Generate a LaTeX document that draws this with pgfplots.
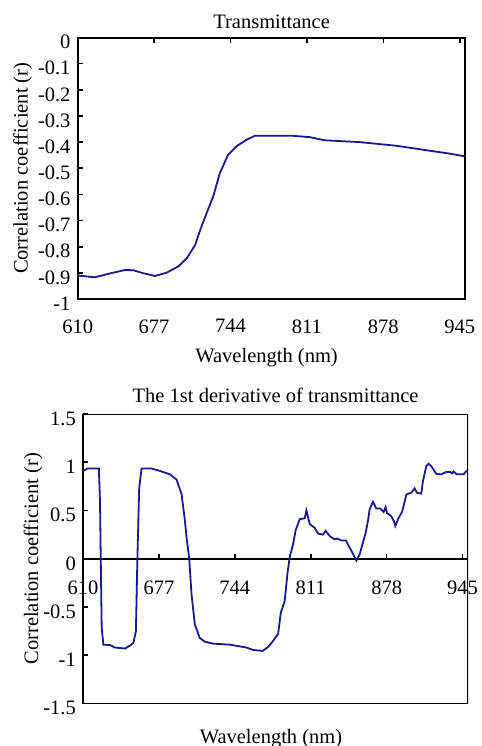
\documentclass[border=0pt]{standalone}
\usepackage{pgfplots}
\pgfplotsset{compat=1.18}
\usepackage{fontspec}
\setmainfont{Liberation Serif}
\definecolor{curve}{RGB}{25,25,140}
\pgfplotstableread{
x y
610 -0.910
612 -0.911
625 -0.917
638.4 -0.902
651.5 -0.889
658.8 -0.890
668 -0.902
677.9 -0.912
688.1 -0.899
698.3 -0.875
705.7 -0.844
713 -0.793
717.4 -0.736
723 -0.672
728.8 -0.608
734.6 -0.519
741.9 -0.448
749.2 -0.416
758 -0.391
765.3 -0.376
798.8 -0.376
813.4 -0.381
826.5 -0.393
857.2 -0.400
889.3 -0.414
912.6 -0.429
936 -0.444
950 -0.455
}\transdata
\pgfplotstableread{
x y
610 0.91
614 0.935
624 0.935
625 0.6
626.5 -0.72
628 -0.89
634 -0.895
638 -0.92
647 -0.93
651.5 -0.90
654.5 -0.87
656.7 -0.75
658 0
659.6 0.73
661.7 0.935
670.5 0.935
678 0.91
686.7 0.875
692.6 0.82
697 0.67
699.9 0.40
701.4 0.22
703.7 0.01
705.8 -0.37
708.7 -0.68
713 -0.82
717.6 -0.86
725 -0.88
739.6 -0.89
754.3 -0.92
760.2 -0.945
768.4 -0.955
773.4 -0.915
777.8 -0.85
782.2 -0.78
784.6 -0.56
788 -0.44
790.5 -0.15
792.5 0.02
795.4 0.15
797.8 0.30
801.3 0.41
805.7 0.42
807.2 0.50
810.1 0.36
814.5 0.32
817.5 0.26
821.9 0.25
824.2 0.29
827.8 0.235
832.2 0.20
834.2 0.21
838 0.19
842 0.19
845.4 0.115
849.2 0.03
851.3 -0.02
854.2 0.045
859.5 0.27
861.5 0.39
863 0.51
865.9 0.59
868.9 0.52
872.4 0.52
875.4 0.485
877.1 0.535
878.3 0.475
882.1 0.44
884.4 0.39
885.7 0.34
888 0.41
891.8 0.49
895.4 0.665
899.8 0.685
902.7 0.73
904.7 0.685
908.6 0.675
910 0.80
913 0.96
915 0.985
917.4 0.96
921.8 0.88
926.2 0.875
930.6 0.90
934.2 0.90
935.9 0.885
937.1 0.905
940 0.875
945.9 0.875
948.8 0.915
}\derivdata
\begin{document}
\fontsize{10.25}{12}\selectfont
\begin{tikzpicture}
\pgfplotsset{every axis/.append style={font=\fontsize{10.25}{12}\selectfont,
  scale only axis, axis line style={line width=1pt}, tick style={black, line width=0.8pt},
  major tick length=2.5pt}}
\begin{axis}[at={(38.85pt,-149.5pt)}, anchor=south west, width=193.9pt, height=130.75pt,
  xmin=610, xmax=950, ymin=-1, ymax=0,
  xtick={610,677,744,811,878,945}, xticklabels={610,677,744,811,878,945},
  ytick={0,-0.1,-0.2,-0.3,-0.4,-0.5,-0.6,-0.7,-0.8,-0.9,-1},
  yticklabels={0,-0.1,-0.2,-0.3,-0.4,-0.5,-0.6,-0.7,-0.8,-0.9,-1},
  xtick pos=upper, xticklabel pos=lower, ytick pos=left, yticklabel pos=left, tick align=inside,
  title={Transmittance}, title style={at={(0.5,1)}, anchor=south, yshift=-5pt},
  xlabel={Wavelength (nm)}, xlabel style={at={(axis description cs:0.5,0)}, anchor=north, yshift=-20.8pt, xshift=-2.5pt},
  ylabel={Correlation coefficient (r)}, ylabel style={at={(axis description cs:-0.099,0.5)}, anchor=south},
  xticklabel style={yshift=-6.6pt}, yticklabel style={yshift=-2.3pt},
]
\addplot[curve, line width=0.9pt, no markers] table[x=x,y=y] {\transdata};
\end{axis}
\begin{axis}[at={(41.5pt,-351.75pt)}, anchor=south west, width=192.6pt, height=144.75pt,
  xmin=610, xmax=950, ymin=-1.5, ymax=1.5,
  axis x line=middle, axis y line=left, axis line style={-, line width=1pt},
  hide obscured x ticks=false, hide obscured y ticks=false,
  xtick={610,677,744,811,878,945}, xticklabels={610,677,744,811,878,945},
  ytick={-1.5,-1,-0.5,0,0.5,1,1.5}, yticklabels={-1.5,-1,-0.5,0,0.5,1,1.5},
  tick align=inside,
  title={The 1st derivative of transmittance}, title style={at={(0.5,1)}, anchor=south, yshift=-4pt},
  xlabel={Wavelength (nm)}, xlabel style={at={(axis description cs:0.5,0)}, anchor=north, yshift=-9.3pt, xshift=-2.3pt},
  ylabel={Correlation coefficient (r)}, ylabel style={at={(axis description cs:-0.0865,0.5)}, anchor=south},
  xticklabel style={yshift=-7.65pt}, yticklabel style={yshift=-2.3pt},
]
\draw[line width=1pt] (rel axis cs:0,0) rectangle (rel axis cs:1,1);
\addplot[curve, line width=0.9pt, no markers] table[x=x,y=y] {\derivdata};
\end{axis}
\pgfresetboundingbox
\path[use as bounding box] (0,0) rectangle (241pt,-373pt);
\end{tikzpicture}
\end{document}
